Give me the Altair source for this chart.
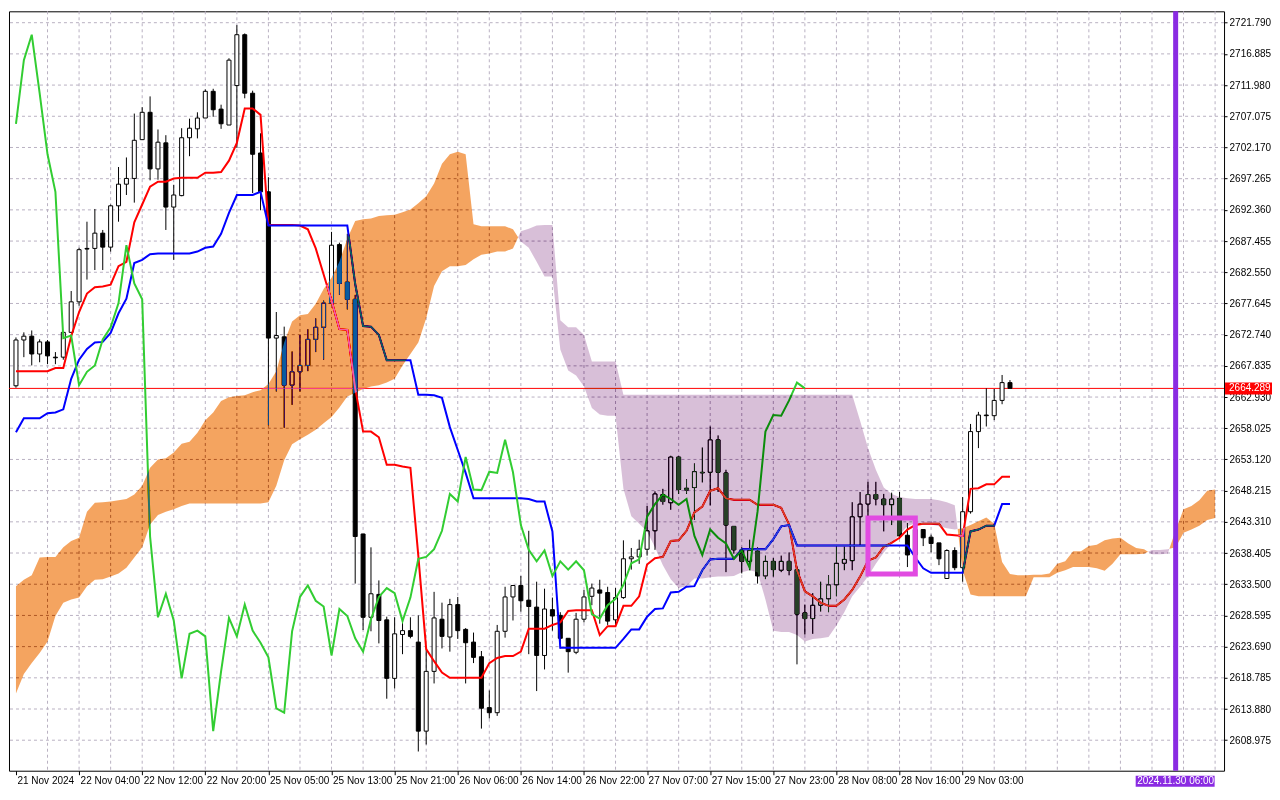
import altair as alt
import pandas as pd

# ---------------- data ----------------
opens = [2664.7, 2671.9, 2672.5, 2669.7, 2671.6, 2669.2, 2669.2, 2673.1, 2677.9, 2686.3,
         2686.3, 2688.7, 2686.5, 2693.0, 2696.4, 2697.3, 2703.4, 2707.7, 2698.8, 2702.9,
         2692.8, 2694.6, 2703.7, 2705.1, 2706.8, 2711.0, 2708.2, 2705.7, 2711.9, 2719.9,
         2710.7, 2701.3, 2695.2, 2672.2, 2672.4, 2664.8, 2666.9, 2667.9, 2672.0, 2673.9,
         2677.7, 2686.9, 2681.0, 2678.3, 2641.4, 2628.3, 2631.9, 2627.9, 2618.7, 2625.6,
         2626.2, 2624.4, 2610.4, 2619.8, 2628.0, 2625.2, 2630.3, 2626.4, 2624.4, 2622.1,
         2614.1, 2613.3, 2626.1, 2631.5, 2633.3, 2631.0, 2629.9, 2622.3, 2629.5, 2628.6,
         2625.0, 2622.8, 2628.0, 2631.6, 2632.6, 2632.2, 2627.9, 2631.4, 2637.5, 2637.8,
         2639.0, 2641.9, 2647.6, 2646.3, 2653.5, 2648.6, 2648.7, 2651.1, 2651.1, 2656.2,
         2651.0, 2642.6, 2638.9, 2637.1, 2638.7, 2634.8, 2637.1, 2635.7, 2637.1, 2635.8,
         2629.0, 2628.1, 2630.2, 2631.2, 2633.4, 2636.8, 2637.2, 2644.1, 2646.1, 2647.6,
         2646.9, 2646.0, 2647.0, 2641.2, 2638.1, 2642.1, 2640.9, 2640.0, 2634.4, 2638.8,
         2636.1, 2644.9, 2657.5, 2660.1, 2660.0, 2662.4, 2665.2]
highs = [2672.3, 2673.1, 2673.4, 2672.0, 2671.9, 2670.0, 2673.1, 2679.6, 2686.4, 2690.5,
         2692.5, 2689.2, 2693.2, 2699.1, 2700.6, 2707.5, 2708.5, 2710.2, 2705.0, 2704.1,
         2696.3, 2705.2, 2706.7, 2707.7, 2711.3, 2711.4, 2708.9, 2716.2, 2721.4, 2720.1,
         2711.1, 2704.4, 2697.5, 2676.3, 2674.0, 2670.1, 2672.7, 2673.6, 2675.3, 2678.1,
         2688.9, 2687.2, 2688.6, 2679.0, 2641.4, 2639.3, 2634.1, 2628.4, 2628.3, 2627.6,
         2628.3, 2628.6, 2623.2, 2632.3, 2630.6, 2631.2, 2631.5, 2626.6, 2625.9, 2623.0,
         2616.8, 2627.1, 2633.1, 2633.3, 2634.8, 2641.9, 2633.9, 2632.8, 2631.4, 2629.1,
         2625.0, 2629.0, 2632.6, 2633.6, 2634.2, 2633.1, 2632.9, 2640.4, 2639.2, 2640.5,
         2645.8, 2648.1, 2648.5, 2653.7, 2653.6, 2650.0, 2652.5, 2655.0, 2658.3, 2656.9,
         2651.5, 2642.6, 2639.3, 2640.5, 2639.3, 2638.0, 2637.6, 2638.0, 2638.5, 2636.3,
         2630.3, 2632.1, 2633.9, 2634.9, 2639.4, 2639.4, 2646.4, 2648.0, 2649.6, 2649.6,
         2647.7, 2647.9, 2648.0, 2643.1, 2642.5, 2642.1, 2641.3, 2640.0, 2639.0, 2639.3,
         2647.2, 2658.7, 2660.6, 2664.3, 2664.2, 2666.4, 2665.6]
lows = [2664.4, 2669.2, 2667.9, 2668.4, 2668.1, 2668.1, 2668.8, 2673.1, 2677.3, 2681.4,
        2682.9, 2682.9, 2685.8, 2690.5, 2694.7, 2693.5, 2703.4, 2697.0, 2697.1, 2689.2,
        2684.5, 2694.5, 2700.8, 2703.6, 2706.8, 2707.0, 2705.1, 2705.7, 2702.1, 2709.9,
        2695.0, 2692.3, 2658.5, 2663.8, 2658.1, 2661.7, 2663.8, 2667.0, 2670.0, 2668.8,
        2677.7, 2679.0, 2676.7, 2633.6, 2626.3, 2626.1, 2624.2, 2615.5, 2617.1, 2622.5,
        2625.0, 2607.2, 2608.3, 2617.9, 2623.4, 2622.9, 2624.9, 2617.9, 2621.1, 2610.8,
        2612.4, 2612.8, 2625.1, 2627.8, 2629.2, 2622.5, 2616.7, 2620.1, 2626.2, 2623.4,
        2619.6, 2622.5, 2627.5, 2630.2, 2627.3, 2627.1, 2627.0, 2631.2, 2635.8, 2636.7,
        2638.0, 2638.9, 2646.0, 2645.2, 2647.7, 2647.7, 2643.6, 2649.5, 2645.9, 2648.0,
        2635.4, 2638.3, 2635.2, 2635.7, 2633.6, 2634.3, 2634.7, 2635.4, 2634.9, 2620.9,
        2625.6, 2625.7, 2629.2, 2629.1, 2631.6, 2635.7, 2635.7, 2639.5, 2643.4, 2645.9,
        2641.8, 2642.8, 2640.6, 2636.2, 2637.5, 2639.5, 2638.5, 2636.5, 2634.4, 2635.7,
        2633.9, 2644.6, 2654.9, 2658.3, 2659.3, 2661.8, 2664.3]
closes = [2671.9, 2672.5, 2669.7, 2671.6, 2669.4, 2669.1, 2673.1, 2677.9, 2686.1, 2686.2,
          2688.7, 2686.5, 2693.0, 2696.4, 2697.3, 2703.3, 2707.7, 2698.8, 2703.0, 2692.8,
          2694.7, 2703.7, 2705.2, 2706.8, 2711.0, 2708.1, 2705.9, 2715.9, 2719.9, 2710.7,
          2701.1, 2695.2, 2672.2, 2672.6, 2664.8, 2666.9, 2667.9, 2672.0, 2673.9, 2677.7,
          2686.8, 2680.8, 2678.3, 2641.0, 2628.3, 2632.0, 2627.8, 2618.7, 2625.7, 2626.2,
          2625.3, 2610.4, 2619.8, 2628.2, 2625.3, 2630.3, 2626.2, 2624.3, 2622.0, 2614.0,
          2613.3, 2626.1, 2631.5, 2633.3, 2630.9, 2630.0, 2622.3, 2629.6, 2628.5, 2625.0,
          2622.9, 2628.0, 2631.5, 2632.9, 2632.1, 2627.7, 2631.4, 2637.5, 2637.8, 2639.0,
          2641.9, 2647.7, 2646.5, 2653.5, 2648.4, 2648.3, 2651.2, 2651.0, 2656.2, 2651.1,
          2642.8, 2638.9, 2637.1, 2638.8, 2634.8, 2637.1, 2635.8, 2637.1, 2635.7, 2628.8,
          2628.1, 2630.2, 2631.2, 2633.4, 2636.8, 2637.4, 2644.1, 2646.1, 2647.6, 2646.9,
          2646.0, 2646.9, 2641.1, 2638.1, 2642.1, 2640.8, 2639.9, 2637.5, 2638.8, 2636.1,
          2644.9, 2657.5, 2660.1, 2660.0, 2662.4, 2665.2, 2664.3]

tenkan = [2667.0, 2667.0, 2667.0, 2667.0, 2667.0, 2667.5, 2667.5, 2672.5, 2676.3, 2679.2,
          2680.2, 2680.3, 2680.6, 2683.5, 2684.2, 2690.4, 2693.2, 2696.0, 2696.8, 2696.8,
          2697.3, 2697.4, 2697.4, 2697.4, 2698.2, 2698.2, 2698.3, 2700.1, 2702.9, 2708.3,
          2708.3, 2707.3, 2690.0, 2690.0, 2690.0, 2690.0, 2689.9, 2689.3, 2686.3, 2682.2,
          2678.1, 2673.6, 2673.5, 2664.3, 2657.5, 2657.5, 2656.6, 2652.3, 2652.3, 2652.0,
          2651.8, 2638.0, 2623.3, 2621.4, 2619.6, 2618.8, 2618.8, 2618.8, 2618.8, 2618.8,
          2621.1, 2621.9, 2622.2, 2622.2, 2622.9, 2626.5, 2626.5, 2626.5, 2627.1, 2627.5,
          2629.3, 2629.4, 2629.4, 2629.4, 2625.5, 2626.9, 2626.9, 2630.1, 2630.1, 2631.6,
          2636.6, 2637.6, 2637.8, 2640.3, 2640.4, 2641.9, 2644.8, 2645.7, 2648.2, 2648.6,
          2647.0, 2646.8, 2646.8, 2646.8, 2646.0, 2646.0, 2646.0, 2645.5, 2642.9, 2635.7,
          2632.4, 2631.6, 2630.6, 2630.1, 2630.1, 2631.1, 2632.6, 2634.7, 2637.2, 2637.7,
          2639.4, 2640.0, 2640.8, 2642.1, 2642.8, 2643.0, 2643.0, 2643.0, 2641.3, 2641.2,
          2641.1, 2648.5, 2648.6, 2649.2, 2649.2, 2650.4, 2650.4]
kijun = [2657.4, 2659.6, 2659.6, 2659.6, 2660.4, 2660.5, 2661.0, 2665.8, 2668.8, 2670.5,
         2671.5, 2671.6, 2673.0, 2676.1, 2678.4, 2684.0, 2684.5, 2685.4, 2685.5, 2685.5,
         2685.5, 2685.5, 2685.5, 2685.8, 2686.4, 2686.6, 2688.6, 2691.9, 2694.7, 2694.7,
         2694.7, 2695.2, 2689.9, 2689.9, 2689.9, 2689.9, 2689.9, 2689.9, 2689.9, 2689.9,
         2689.9, 2689.9, 2689.9, 2680.7, 2674.1, 2674.0, 2672.7, 2668.7, 2668.7, 2668.7,
         2668.7, 2663.3, 2663.3, 2663.2, 2662.8, 2658.2, 2654.6, 2651.0, 2647.0, 2647.0,
         2647.0, 2647.0, 2647.0, 2647.0, 2647.0, 2646.9, 2646.5, 2646.5, 2641.8, 2623.5,
         2623.5, 2623.5, 2623.5, 2623.5, 2623.5, 2623.5, 2623.5, 2624.9, 2626.4, 2626.4,
         2628.4, 2629.6, 2629.7, 2632.2, 2632.3, 2633.1, 2633.2, 2635.7, 2637.4, 2637.5,
         2637.5, 2637.5, 2639.0, 2639.0, 2639.0, 2639.0, 2640.6, 2642.6, 2642.8, 2639.6,
         2639.6, 2639.6, 2639.6, 2639.6, 2639.6, 2639.6, 2639.6, 2639.6, 2639.6, 2639.6,
         2639.6, 2639.6, 2639.6, 2639.6, 2637.7, 2636.0, 2635.3, 2635.3, 2635.3, 2635.3,
         2635.3, 2641.8, 2642.1, 2642.7, 2642.7, 2646.1, 2646.1]
chikou = [2705.9, 2715.9, 2719.9, 2710.7, 2701.1, 2695.2, 2672.2, 2672.6, 2664.8, 2666.9,
          2667.9, 2672.0, 2673.9, 2677.7, 2686.8, 2680.8, 2678.3, 2641.0, 2628.3, 2632.0,
          2627.8, 2618.7, 2625.7, 2626.2, 2625.3, 2610.4, 2619.8, 2628.2, 2625.3, 2630.3,
          2626.2, 2624.3, 2622.0, 2614.0, 2613.3, 2626.1, 2631.5, 2633.3, 2630.9, 2630.0,
          2622.3, 2629.6, 2628.5, 2625.0, 2622.9, 2628.0, 2631.5, 2632.9, 2632.1, 2627.7,
          2631.4, 2637.5, 2637.8, 2639.0, 2641.9, 2647.7, 2646.5, 2653.5, 2648.4, 2648.3,
          2651.2, 2651.0, 2656.2, 2651.1, 2642.8, 2638.9, 2637.1, 2638.8, 2634.8, 2637.1,
          2635.8, 2637.1, 2635.7, 2628.8, 2628.1, 2630.2, 2631.2, 2633.4, 2636.8, 2637.4,
          2644.1, 2646.1, 2647.6, 2646.9, 2646.0, 2646.9, 2641.1, 2638.1, 2642.1, 2640.8,
          2639.9, 2637.5, 2638.8, 2636.1, 2644.9, 2657.5, 2660.1, 2660.0, 2662.4, 2665.2,
          2664.3]
span_a = [2633.2, 2634.2, 2634.9, 2637.7, 2637.8, 2637.8, 2639.3, 2640.3, 2640.8, 2644.9,
          2646.3, 2646.4, 2646.5, 2646.7, 2646.9, 2647.6, 2649.0, 2651.8, 2653.1, 2653.3,
          2654.2, 2655.6, 2655.9, 2657.3, 2659.3, 2660.5, 2662.3, 2662.9, 2663.1, 2663.2,
          2663.7, 2664.0, 2665.0, 2667.0, 2671.5, 2674.8, 2675.8, 2676.0, 2677.6, 2679.9,
          2681.7, 2684.2, 2687.8, 2690.6, 2690.9, 2691.0, 2691.4, 2691.5, 2691.6, 2692.0,
          2692.4, 2693.4, 2694.5, 2696.5, 2699.6, 2701.1, 2701.5, 2701.1, 2690.1, 2689.8,
          2689.8, 2689.8, 2689.8, 2689.3, 2687.4, 2686.4, 2684.2, 2681.9, 2681.9, 2670.4,
          2667.1, 2666.3, 2664.6, 2661.2, 2660.2, 2660.0, 2660.0, 2648.5, 2644.2, 2643.0,
          2641.8, 2639.3, 2636.5, 2634.3, 2632.9, 2633.2, 2634.4, 2634.4, 2634.6, 2634.7,
          2634.7, 2634.8, 2635.4, 2635.7, 2635.4, 2631.1, 2626.2, 2626.0, 2626.0, 2625.5,
          2624.5, 2624.9, 2625.0, 2625.2, 2627.0, 2629.1, 2631.6, 2633.1, 2634.7, 2636.7,
          2638.5, 2640.0, 2641.3, 2642.6, 2643.1, 2642.9, 2642.9, 2642.6, 2642.3, 2642.1,
          2642.3, 2642.8, 2643.4, 2644.0, 2643.0, 2637.0, 2635.1, 2634.9, 2634.9, 2635.0,
          2635.0, 2635.2, 2636.7, 2637.1, 2638.7, 2638.7, 2639.5, 2639.7, 2640.4, 2640.7,
          2640.8, 2639.9, 2639.2, 2639.0, 2638.2, 2638.2, 2638.3, 2642.0, 2645.3, 2645.8,
          2646.7, 2648.2, 2648.4]
span_b = [2616.3, 2619.4, 2621.1, 2622.7, 2624.5, 2628.5, 2630.6, 2631.1, 2631.4, 2633.2,
          2634.2, 2634.3, 2634.7, 2635.2, 2636.1, 2637.7, 2639.3, 2642.9, 2644.4, 2644.9,
          2645.3, 2645.8, 2646.2, 2646.2, 2646.2, 2646.2, 2646.2, 2646.2, 2646.2, 2646.2,
          2646.2, 2646.2, 2646.4, 2649.0, 2653.0, 2655.5, 2656.3, 2657.0, 2657.8, 2658.8,
          2659.8, 2661.3, 2663.0, 2663.6, 2664.2, 2664.6, 2664.8, 2665.2, 2665.8, 2667.9,
          2669.7, 2671.5, 2675.3, 2680.4, 2682.7, 2683.5, 2683.5, 2683.7, 2684.6, 2685.3,
          2685.5, 2685.8, 2685.8, 2686.3, 2689.0, 2689.4, 2689.9, 2690.0, 2690.0, 2675.0,
          2673.9, 2673.9, 2672.7, 2668.5, 2668.5, 2668.5, 2668.5, 2663.3, 2663.3, 2663.3,
          2663.3, 2663.3, 2663.3, 2663.3, 2663.3, 2663.3, 2663.3, 2663.3, 2663.3, 2663.3,
          2663.3, 2663.3, 2663.3, 2663.3, 2663.3, 2663.3, 2663.3, 2663.3, 2663.3, 2663.3,
          2663.3, 2663.3, 2663.3, 2663.3, 2663.3, 2663.3, 2663.3, 2659.2, 2654.9, 2651.5,
          2648.7, 2647.7, 2647.2, 2647.0, 2646.9, 2646.9, 2646.9, 2646.7, 2646.4, 2645.9,
          2635.7, 2631.9, 2631.6, 2631.6, 2631.6, 2631.6, 2631.6, 2631.6, 2631.6, 2634.6,
          2634.6, 2634.6, 2635.3, 2635.7, 2636.2, 2636.2, 2636.2, 2636.0, 2635.6, 2636.7,
          2638.2, 2638.2, 2638.2, 2638.3, 2638.9, 2638.9, 2639.0, 2639.3, 2641.6, 2642.1,
          2642.7, 2643.6, 2643.9]

time_labels = ["21 Nov 2024", "22 Nov 04:00", "22 Nov 12:00", "22 Nov 20:00",
               "25 Nov 05:00", "25 Nov 13:00", "25 Nov 21:00", "26 Nov 06:00",
               "26 Nov 14:00", "26 Nov 22:00", "27 Nov 07:00", "27 Nov 15:00",
               "27 Nov 23:00", "28 Nov 08:00", "28 Nov 16:00", "29 Nov 03:00"]
price_labels = [2608.975, 2613.880, 2618.785, 2623.690, 2628.595, 2633.500, 2638.405,
                2643.310, 2648.215, 2653.120, 2658.025, 2662.930, 2667.835, 2672.740,
                2677.645, 2682.550, 2687.455, 2692.360, 2697.265, 2702.170, 2707.075,
                2711.980, 2716.885, 2721.790]
current_price = 2664.289
current_label = "2664.289"
future_bar = 147
future_label = "2024.11.30 06:00"
box_bars = [108, 114]
box_prices = [2643.9, 2635.1]

# ---------------- layout / style ----------------
W, H = 1216, 760
FONT = "Liberation Sans"
X_DOMAIN = [-0.25, 152.5]
Y_DOMAIN = [2604.18, 2723.58]
GRID = "#b9b1c2"

label_js = "[" + ",".join("'%s'" % s for s in time_labels) + "][round(datum.value / 8)]"
x_axis = alt.Axis(values=[8 * k for k in range(len(time_labels))], labelExpr=label_js,
                  grid=False, domain=False, ticks=True, tickSize=4, tickColor="black",
                  labelAlign="left", labelBaseline="top", labelPadding=1, labelOffset=1,
                  labelOverlap=False, labelBound=False, labelFont=FONT, labelFontSize=10,
                  labelColor="black", title=None)
y_axis = alt.Axis(orient="right", values=price_labels, format=".3f", grid=False,
                  domain=False, tickSize=3, tickColor="black", labelPadding=2,
                  labelFont=FONT, labelFontSize=10, labelColor="black", title=None,
                  labelOverlap=False, labelBaseline="middle", labelAlign="left")
xs = alt.Scale(domain=X_DOMAIN, nice=False, zero=False)
ys = alt.Scale(domain=Y_DOMAIN, nice=False, zero=False)


def X(f):
    return alt.X(f + ":Q", scale=xs, axis=x_axis)


def Y(f):
    return alt.Y(f + ":Q", scale=ys, axis=y_axis, stack=None)


n = len(closes)
candles = pd.DataFrame({"i": list(range(n)), "o": opens, "h": highs, "l": lows, "c": closes})
candles["dir"] = ["up" if c >= o else "down" for o, c in zip(opens, closes)]

tk = pd.DataFrame({"i": list(range(len(tenkan))), "v": tenkan})
kj = pd.DataFrame({"i": list(range(len(kijun))), "v": kijun})
ck = pd.DataFrame({"i": list(range(len(chikou))), "v": chikou})

# cloud split into same-colour runs, joined at the crossing of the two spans
rows = []
seg = 0
cur = "up" if span_a[0] >= span_b[0] else "down"
rows.append({"i": 0, "a": span_a[0], "b": span_b[0], "seg": seg, "kind": cur})
for k in range(1, len(span_a)):
    kd = "up" if span_a[k] >= span_b[k] else "down"
    if kd != cur:
        d0 = span_a[k - 1] - span_b[k - 1]
        d1 = span_a[k] - span_b[k]
        t = d0 / (d0 - d1)
        xc = k - 1 + t
        yc = span_a[k - 1] + t * (span_a[k] - span_a[k - 1])
        rows.append({"i": xc, "a": yc, "b": yc, "seg": seg, "kind": cur})
        seg += 1
        cur = kd
        rows.append({"i": xc, "a": yc, "b": yc, "seg": seg, "kind": cur})
    rows.append({"i": k, "a": span_a[k], "b": span_b[k], "seg": seg, "kind": cur})
cloud = pd.DataFrame(rows)

vgrid = pd.DataFrame({"i": list(range(4, 153, 4))})
hgrid = pd.DataFrame({"p": price_labels})
price_df = pd.DataFrame({"p": [current_price], "label": [current_label]})
future_df = pd.DataFrame({"i": [future_bar], "label": [future_label]})
box_df = pd.DataFrame({"x1": [box_bars[0]], "x2": [box_bars[1]],
                       "p1": [box_prices[0]], "p2": [box_prices[1]]})

layers = [
    alt.Chart(vgrid).mark_rule(color=GRID, strokeWidth=1, strokeDash=[3, 3]).encode(x=X("i")),
    alt.Chart(hgrid).mark_rule(color=GRID, strokeWidth=1, strokeDash=[3, 3]).encode(y=Y("p")),
    alt.Chart(price_df).mark_rule(color="#ff0000", strokeWidth=1).encode(y=Y("p")),
    alt.Chart(candles).mark_rule(color="black", strokeWidth=1).encode(x=X("i"), y=Y("l"), y2="h"),
    alt.Chart(candles).mark_bar(width=4, stroke="black", strokeWidth=1).encode(
        x=X("i"), y=Y("o"), y2="c",
        fill=alt.Fill("dir:N", scale=alt.Scale(domain=["up", "down"], range=["white", "black"]),
                      legend=None)),
    alt.Chart(tk).mark_line(color="#ff0000", strokeWidth=2).encode(x=X("i"), y=Y("v")),
    alt.Chart(kj).mark_line(color="#0000ff", strokeWidth=2).encode(x=X("i"), y=Y("v")),
    alt.Chart(ck).mark_line(color="#32cd32", strokeWidth=2).encode(x=X("i"), y=Y("v")),
    alt.Chart(cloud).mark_area(blend="difference", opacity=1, interpolate="linear").encode(
        x=X("i"), y=Y("a"), y2="b", detail="seg:N",
        color=alt.Color("kind:N", scale=alt.Scale(domain=["up", "down"],
                                                  range=["#0b5b9f", "#274027"]), legend=None)),
    alt.Chart(box_df).mark_rect(filled=False, color="#e14be1", strokeWidth=5).encode(
        x=X("x1"), x2="x2", y=Y("p1"), y2="p2"),
    alt.Chart(future_df).mark_rule(color="#8a2be2", strokeWidth=5).encode(x=X("i")),
    alt.Chart(future_df).mark_rect(color="#8a2be2", xOffset=-40, x2Offset=39).encode(
        x=X("i"), x2="i", y=alt.value(H + 5), y2=alt.value(H + 16)),
    alt.Chart(future_df).mark_text(color="white", font=FONT, fontSize=10, align="center",
                                   baseline="middle").encode(
        x=X("i"), y=alt.value(H + 10.5), text="label:N"),
    alt.Chart(price_df).mark_rect(color="#ff0000", yOffset=-6, y2Offset=6).encode(
        x=alt.value(W + 1), x2=alt.value(W + 48), y=Y("p"), y2="p"),
    alt.Chart(price_df).mark_text(color="white", font=FONT, fontSize=10, align="left",
                                  baseline="middle").encode(
        x=alt.value(W + 5), y=Y("p"), text="label:N"),
]

chart = alt.layer(*layers).properties(
    width=W, height=H, padding=0, background="white"
).configure_view(stroke="black", strokeWidth=1, fill="white")

chart.save("out.html", embed_options={"renderer": "svg", "actions": False})
